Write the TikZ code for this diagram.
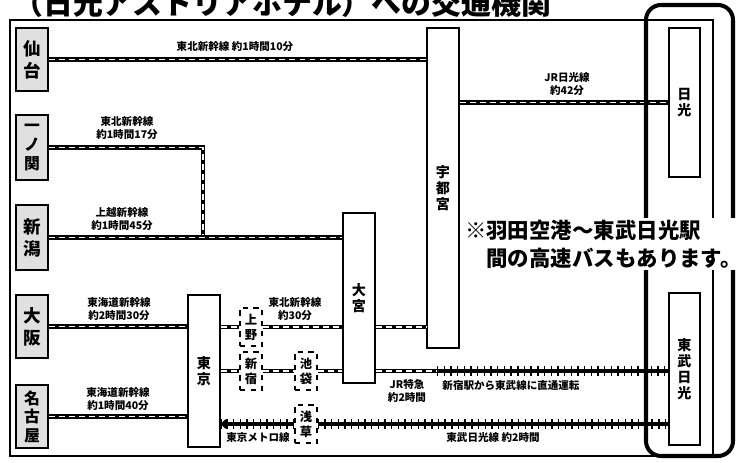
\documentclass[tikz,border=0pt]{standalone}
\usepackage{fontspec}
\setmainfont{Noto Sans CJK JP}
\usetikzlibrary{arrows.meta}
\tikzset{
bigstn/.style={draw, line width=1.3pt, fill=black!12, minimum width=0.64cm, inner sep=0pt, align=center, font=\bfseries\fontsize{10}{12.5}\selectfont},
stn/.style={draw, line width=0.8pt, fill=white, minimum width=0.64cm, inner sep=0pt, align=center, font=\bfseries\fontsize{8}{9}\selectfont},
substn/.style={draw, dashed, line width=0.7pt, fill=white, minimum width=0.44cm, minimum height=0.76cm, inner sep=0pt, align=center, font=\bfseries\fontsize{7}{8.5}\selectfont},
jrline/.style={line width=2.6pt, postaction={draw, white, line width=0.9pt, dash pattern=on 3.4pt off 2.3pt}},
trackline/.style={line width=1.8pt, postaction={draw, -, line width=5.5pt, dash pattern=on 0.8pt off 3pt}},
lbl/.style={inner sep=0pt, align=center, font=\bfseries\fontsize{6}{7}\selectfont}
}
\begin{document}
\begin{tikzpicture}[x=0.02cm, y=-0.02cm]
\useasboundingbox (0,0) rectangle (747,463);
\node[anchor=base west, inner sep=0pt, font=\bfseries\fontsize{17}{20}\selectfont] (title) at (13,14){（日光アストリアホテル）への交通機関};
\draw[line width=0.8pt] (10,20) rectangle (713,456);
\node[bigstn, minimum height=1.26cm] (sendai) at (32,59.5){仙\\台};
\node[bigstn, minimum height=1.3cm, font=\bfseries\fontsize{9}{11}\selectfont] (ichinoseki) at (32,147.5){一\\ノ\\関};
\node[bigstn, minimum height=1.3cm] (niigata) at (32,237.5){新\\潟};
\node[bigstn, minimum height=1.26cm] (osaka) at (32,326.5){大\\阪};
\node[bigstn, minimum height=1.26cm, font=\bfseries\fontsize{9}{10.5}\selectfont] (nagoya) at (32,416.5){名\\古\\屋};
\node[stn, minimum height=3.04cm] (tokyo) at (204,371){東\\京};
\node[substn] (ueno) at (251,327){上\\野};
\node[substn] (shinjuku) at (251,371){新\\宿};
\node[substn] (ikebukuro) at (306,371){池\\袋};
\node[substn] (asakusa) at (306,424){浅\\草};
\node[stn, minimum height=3.4cm] (omiya) at (359,298){大\\宮};
\node[stn, minimum height=6.4cm] (utsunomiya) at (443,188){宇\\都\\宮};
\node[stn, minimum height=2.98cm, minimum width=0.62cm] (nikko) at (684.5,102.5){日\\光};
\node[stn, minimum height=3.04cm, minimum width=0.62cm] (tobunikko) at (684.5,369){東\\武\\日\\光};
\coordinate (ichibend) at (203,237.5);
\coordinate (jrtobu) at (437,371);
\draw[jrline] (sendai) -- (sendai -| utsunomiya.west);
\draw[jrline] (ichinoseki) -| (ichibend);
\draw[jrline] (niigata) -- (niigata -| omiya.west);
\draw[jrline] (osaka) -- (osaka -| tokyo.west);
\draw[jrline] (nagoya) -- (nagoya -| tokyo.west);
\draw[jrline] (tokyo.east |- ueno) -- (ueno);
\draw[jrline] (ueno) -- (ueno -| omiya.west);
\draw[jrline] (omiya.east |- ueno) -- (ueno -| utsunomiya.west);
\draw[jrline] (tokyo.east |- shinjuku) -- (shinjuku);
\draw[jrline] (shinjuku) -- (ikebukuro);
\draw[jrline] (ikebukuro) -- (ikebukuro -| omiya.west);
\draw[jrline] (omiya.east |- ikebukuro) -- (jrtobu);
\draw[trackline] (jrtobu) -- (jrtobu -| tobunikko.west);
\draw[trackline, -{Straight Barb[length=2pt, width=4pt]}] (asakusa) -- (asakusa -| tokyo.east);
\draw[trackline] (asakusa) -- (asakusa -| tobunikko.west);
\draw[jrline] (utsunomiya.east |- nikko) -- (nikko);
\node[lbl] (lsendai) at (235,47){東北新幹線 約1時間10分};
\node[lbl] (lichinoseki) at (127,128){東北新幹線\\約1時間17分};
\node[lbl] (lniigata) at (122,219){上越新幹線\\約1時間45分};
\node[lbl] (losaka) at (119,309){東海道新幹線\\約2時間30分};
\node[lbl] (lnagoya) at (118,399){東海道新幹線\\約1時間40分};
\node[lbl] (lueno) at (295,309){東北新幹線\\約30分};
\node[lbl] (lnikko) at (567,84){JR日光線\\約42分};
\node[lbl] (ltokkyu) at (407,391){JR特急\\約2時間};
\node[lbl] (lchokutsu) at (511,385){新宿駅から東武線に直通運転};
\node[lbl] (lmetro) at (258,437){東京メトロ線};
\node[lbl] (ltobu) at (493,437){東武日光線 約2時間};
\draw[line width=2.3pt, rounded corners=0.3cm] (646,5) rectangle (733,456);
\node[fill=white, inner sep=1pt, align=left, anchor=west, font=\bfseries\fontsize{12.2}{16}\selectfont] (note) at (463,244){※羽田空港～東武日光駅\\　間の高速バスもあります。};
\end{tikzpicture}
\end{document}
